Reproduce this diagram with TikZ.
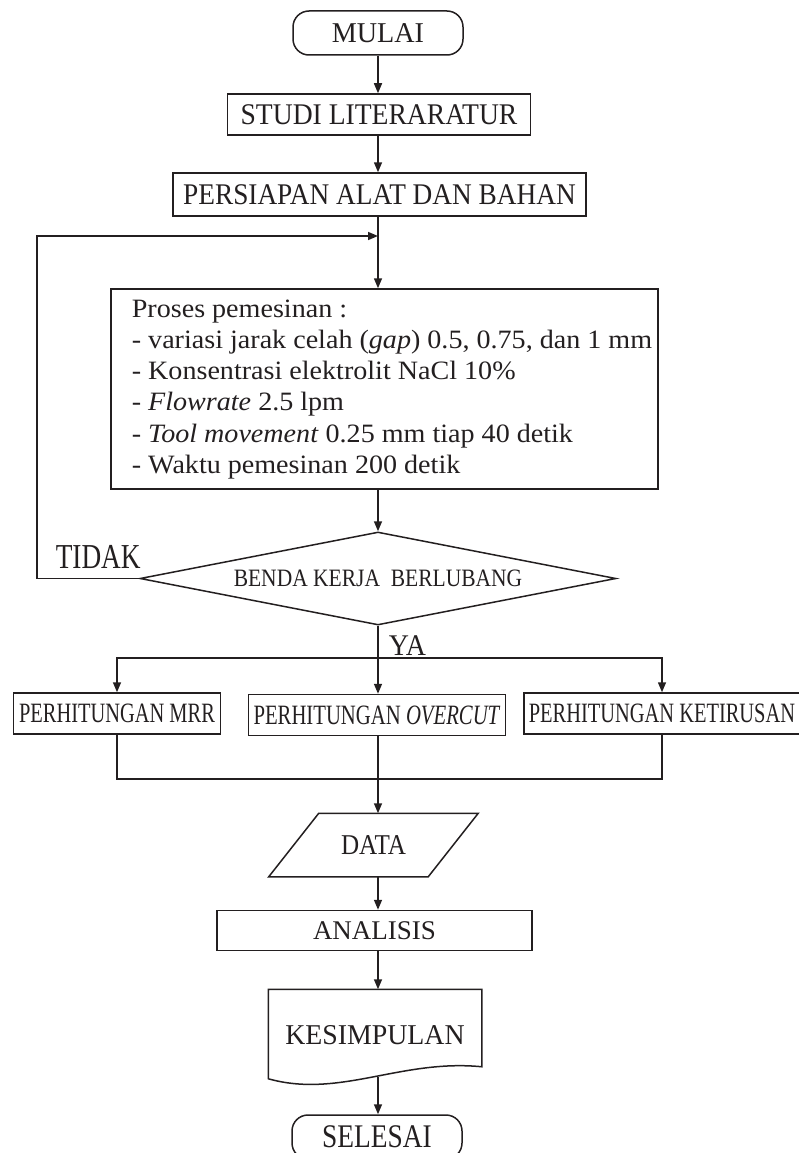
\documentclass[tikz,border=0pt]{standalone}
\usepackage{fontspec}
\setmainfont{Liberation Serif}
\usepackage{graphicx}
\usetikzlibrary{shapes.geometric,arrows.meta,calc}
\definecolor{ink}{RGB}{35,31,32}
\newcommand{\ftx}[3]{{\fontsize{#1}{#1}\selectfont\scalebox{#2}[1]{#3}}}
\begin{document}
\begin{tikzpicture}[x=1pt,y=-1pt, line width=1.5pt, color=ink,
  box/.style={draw, rectangle, inner sep=0pt, anchor=center},
  plain/.style={rectangle, inner sep=0pt, anchor=center},
  term/.style={draw, rectangle, rounded corners=16pt, inner sep=0pt, minimum width=170pt, minimum height=44pt},
  arr/.style={-{Triangle[length=10pt,width=8pt]}}]
\useasboundingbox (0,0) rectangle (798,1153);
\coordinate (spine) at (378,0);
\coordinate (loopx) at (37,0);
% nodes
\node[term] (mulai) at (378,33) {\ftx{28.7}{0.98}{MULAI}};
\node[box, minimum width=303pt, minimum height=41pt] (studi) at (379,114.5) {\ftx{30}{0.92}{STUDI LITERARATUR}};
\node[box, minimum width=413pt, minimum height=43pt] (persiapan) at (379.5,194.5) {\ftx{30}{0.91}{PERSIAPAN ALAT DAN BAHAN}};
\coordinate (join) at (378,236);
\node[box, minimum width=547pt, minimum height=200pt] (proses) at (384.5,389) {\hspace*{15pt}{\fontsize{26.5}{31.2}\selectfont\scalebox{1.06}[1]{\begin{tabular}{@{}l@{}}
Proses pemesinan :\\
- variasi jarak celah (\textit{gap}) 0.5, 0.75, dan 1 mm\\
- Konsentrasi elektrolit NaCl 10\%\\
\textit{- Flowrate} 2.5 lpm\\
- \textit{Tool movement} 0.25 mm tiap 40 detik\\
- Waktu pemesinan 200 detik
\end{tabular}}}};
\node[draw, diamond, shape aspect=5.12, inner sep=0pt, minimum width=476pt, minimum height=93pt] (dec) at (378,578.5) {\ftx{25}{0.86}{BENDA KERJA\ \ BERLUBANG}};
\node[anchor=base west, inner sep=0pt] (tidak) at (55,568) {\ftx{35}{0.78}{TIDAK}};
\node[anchor=base west, inner sep=0pt] (ya) at (388,655) {\ftx{30}{0.93}{YA}};
\coordinate (split) at (378,658);
\node[box, minimum width=207pt, minimum height=41pt] (mrr) at (117,713.5) {\ftx{28}{0.73}{PERHITUNGAN MRR}};
\node[box, minimum width=257pt, minimum height=41pt] (overcut) at (377,715) {\ftx{28}{0.74}{PERHITUNGAN \textit{OVERCUT}}};
\node[box, minimum width=276pt, minimum height=41pt] (ket) at (662,713.5) {\ftx{28}{0.73}{PERHITUNGAN KETIRUSAN}};
\coordinate (merge) at (378,779);
\node[plain, minimum width=158pt, minimum height=62pt] (data) at (373.5,845) {\ftx{28.7}{0.875}{DATA}};
\draw ($(data.north west)+(25,0)$) -- ($(data.north east)+(25,0)$) -- ($(data.south east)+(-25,0)$) -- ($(data.south west)+(-25,0)$) -- cycle;
\node[box, minimum width=315pt, minimum height=40pt] (analisis) at (374.5,930.5) {\ftx{27}{1.0}{ANALISIS}};
\node[plain, minimum width=212pt, minimum height=76pt] (kes) at (375,1028) {\raisebox{-7pt}[\height][\depth]{\ftx{28.7}{0.97}{KESIMPULAN}}};
\draw (kes.north west) -- (kes.north east) -- (kes.south east) .. controls ($(kes.south east)+(-81,-8)$) and ($(kes.south west)+(71,32)$) .. ($(kes.south west)+(0,12)$) -- cycle;
\coordinate (kesbot) at (378,1077);
\node[term] (selesai) at (377,1137) {\ftx{33}{0.83}{SELESAI}};
% connectors
\draw[arr] (mulai.south -| spine) -- (studi.north -| spine);
\draw[arr] (studi.south -| spine) -- (persiapan.north -| spine);
\draw[arr] (persiapan.south -| spine) -- (proses.north -| spine);
\draw[arr] (proses.south -| spine) -- (dec.north);
\draw[arr] (dec.west) -| (loopx |- join) -- (join);
\draw (dec.south) -- (split);
\draw[arr] (split) -- (overcut.north -| split);
\draw[arr] (split) -| (mrr.north);
\draw[arr] (split) -| (ket.north);
\draw (mrr.south) |- (merge) -| (ket.south);
\draw[arr] (overcut.south -| spine) -- (data.north -| spine);
\draw[arr] (data.south -| spine) -- (analisis.north -| spine);
\draw[arr] (analisis.south -| spine) -- (kes.north -| spine);
\draw[arr] (kesbot) -- (selesai.north -| spine);
\end{tikzpicture}
\end{document}
